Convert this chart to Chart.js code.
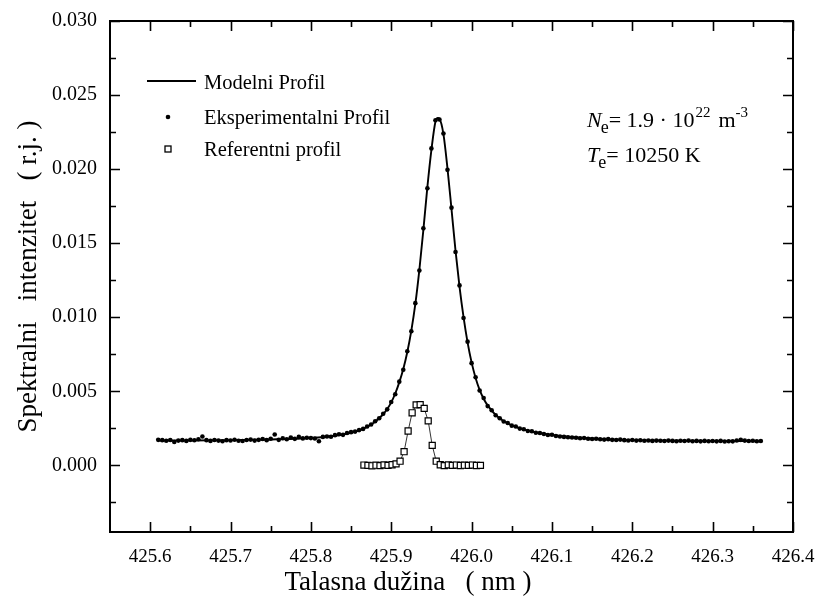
<!DOCTYPE html>
<html>
<head>
<meta charset="utf-8">
<script src="https://cdn.jsdelivr.net/npm/chart.js@4"></script>
<style>
  html, body { margin: 0; padding: 0; background: #fff; }
  #wrap { width: 815px; height: 602px; }
</style>
</head>
<body>
<div id="wrap"><canvas id="myChart" width="815" height="602"></canvas></div>
<script>
// podaci ocitani sa grafika
const wavelengths = [
  425.610, 425.615, 425.620, 425.625, 425.630, 425.635, 425.640, 425.645, 425.650, 425.655,
  425.660, 425.665, 425.670, 425.675, 425.680, 425.685, 425.690, 425.695, 425.700, 425.705,
  425.710, 425.715, 425.720, 425.725, 425.730, 425.735, 425.740, 425.745, 425.750, 425.755,
  425.760, 425.765, 425.770, 425.775, 425.780, 425.785, 425.790, 425.795, 425.800, 425.805,
  425.810, 425.815, 425.820, 425.825, 425.830, 425.835, 425.840, 425.845, 425.850, 425.855,
  425.860, 425.865, 425.870, 425.875, 425.880, 425.885, 425.890, 425.895, 425.900, 425.905,
  425.910, 425.915, 425.920, 425.925, 425.930, 425.935, 425.940, 425.945, 425.950, 425.955,
  425.960, 425.965, 425.970, 425.975, 425.980, 425.985, 425.990, 425.995, 426.000, 426.005,
  426.010, 426.015, 426.020, 426.025, 426.030, 426.035, 426.040, 426.045, 426.050, 426.055,
  426.060, 426.065, 426.070, 426.075, 426.080, 426.085, 426.090, 426.095, 426.100, 426.105,
  426.110, 426.115, 426.120, 426.125, 426.130, 426.135, 426.140, 426.145, 426.150, 426.155,
  426.160, 426.165, 426.170, 426.175, 426.180, 426.185, 426.190, 426.195, 426.200, 426.205,
  426.210, 426.215, 426.220, 426.225, 426.230, 426.235, 426.240, 426.245, 426.250, 426.255,
  426.260, 426.265, 426.270, 426.275, 426.280, 426.285, 426.290, 426.295, 426.300, 426.305,
  426.310, 426.315, 426.320, 426.325, 426.330, 426.335, 426.340, 426.345, 426.350, 426.355,
  426.360
];
const experimental = [
  0.00172, 0.00170, 0.00166, 0.00171, 0.00158, 0.00167, 0.00170, 0.00165, 0.00172, 0.00169,
  0.00176, 0.00195, 0.00170, 0.00165, 0.00171, 0.00167, 0.00163, 0.00170, 0.00168, 0.00173,
  0.00166, 0.00164, 0.00171, 0.00174, 0.00167, 0.00172, 0.00178, 0.00170, 0.00180, 0.00208,
  0.00172, 0.00183, 0.00176, 0.00188, 0.00179, 0.00192, 0.00182, 0.00186, 0.00184, 0.00181,
  0.00163, 0.00192, 0.00195, 0.00193, 0.00204, 0.00210, 0.00206, 0.00218, 0.00224, 0.00228,
  0.00238, 0.00246, 0.00262, 0.00276, 0.00298, 0.00318, 0.00348, 0.00378, 0.00428, 0.00480,
  0.00565, 0.00645, 0.00770, 0.00905, 0.01095, 0.01315, 0.01600, 0.01870, 0.02140, 0.02330,
  0.02335, 0.02240, 0.01995, 0.01740, 0.01440, 0.01215, 0.00995, 0.00835, 0.00690, 0.00595,
  0.00505, 0.00455, 0.00400, 0.00372, 0.00338, 0.00318, 0.00296, 0.00286, 0.00268, 0.00262,
  0.00248, 0.00244, 0.00232, 0.00230, 0.00220, 0.00218, 0.00212, 0.00205, 0.00207, 0.00198,
  0.00195, 0.00192, 0.00190, 0.00188, 0.00186, 0.00183, 0.00185, 0.00180, 0.00178, 0.00180,
  0.00176, 0.00174, 0.00177, 0.00172, 0.00171, 0.00174, 0.00170, 0.00168, 0.00171, 0.00167,
  0.00169, 0.00166, 0.00168, 0.00165, 0.00167, 0.00166, 0.00164, 0.00167, 0.00165, 0.00163,
  0.00166, 0.00164, 0.00167, 0.00163, 0.00165, 0.00162, 0.00165, 0.00163, 0.00164, 0.00162,
  0.00165, 0.00161, 0.00163, 0.00162, 0.00168, 0.00172, 0.00167, 0.00164, 0.00166, 0.00163,
  0.00164
];

// modelni profil
const modelX = [
  425.61, 425.65, 425.70, 425.75, 425.80, 425.83, 425.85, 425.86, 425.87, 425.88,
  425.89, 425.895, 425.90, 425.905, 425.91, 425.915, 425.92, 425.925, 425.93, 425.935,
  425.94, 425.945, 425.95, 425.955, 425.958, 425.96, 425.965, 425.97, 425.975, 425.98,
  425.985, 425.99, 425.995, 426.00, 426.005, 426.01, 426.015, 426.02, 426.03, 426.04,
  426.05, 426.06, 426.07, 426.08, 426.10, 426.12, 426.14, 426.16, 426.18, 426.20,
  426.25, 426.30, 426.36
];
const modelY = [
  0.00168, 0.00168, 0.00170, 0.00175, 0.00185, 0.00200, 0.00220, 0.00235, 0.00260, 0.00295,
  0.00345, 0.00380, 0.00425, 0.00485, 0.00560, 0.00650, 0.00765, 0.00910, 0.01090, 0.01320,
  0.01590, 0.01880, 0.02130, 0.02320, 0.02345, 0.02340, 0.02235, 0.02005, 0.01730, 0.01450,
  0.01205, 0.01000, 0.00830, 0.00695, 0.00590, 0.00510, 0.00450, 0.00405, 0.00340, 0.00298,
  0.00270, 0.00250, 0.00234, 0.00222, 0.00205, 0.00193, 0.00185, 0.00178, 0.00173, 0.00170,
  0.00166, 0.00164, 0.00163
];

// referentni profil
const refX = [
  425.866, 425.871, 425.876, 425.881, 425.886, 425.891, 425.896, 425.901, 425.906, 425.911,
  425.916, 425.921, 425.926, 425.931, 425.936, 425.941, 425.946, 425.951, 425.956, 425.961,
  425.966, 425.971, 425.976, 425.981, 425.986, 425.991, 425.996, 426.001, 426.006, 426.011
];
const refY = [
  0.00002, 0.00000, -0.00003, 0.00001, -0.00002, 0.00003, 0.00000, 0.00004, 0.00010, 0.00028,
  0.00092, 0.00232, 0.00355, 0.00408, 0.00410, 0.00385, 0.00300, 0.00135, 0.00028, 0.00004,
  -0.00002, 0.00003, 0.00000, 0.00002, -0.00001, 0.00001, 0.00000, 0.00002, -0.00001, 0.00000
];

const xTicks = [425.6, 425.7, 425.8, 425.9, 426.0, 426.1, 426.2, 426.3, 426.4];
const xMinorTicks = [425.65, 425.75, 425.85, 425.95, 426.05, 426.15, 426.25, 426.35];
const yTicks = [0, 0.005, 0.010, 0.015, 0.020, 0.025, 0.030];
const yMinorTicks = [-0.0025, 0.0025, 0.0075, 0.0125, 0.0175, 0.0225, 0.0275];

const serif = '"Liberation Serif", "DejaVu Serif", serif';

// okvir i unutrasnje crtice na sve cetiri strane
const frameTicks = {
  id: 'frameTicks',
  afterDatasetsDraw(chart) {
    const { ctx, chartArea: a, scales: { x, y } } = chart;
    ctx.save();
    ctx.strokeStyle = '#000';
    ctx.lineWidth = 1.6;
    ctx.beginPath();
    xTicks.concat(xMinorTicks).forEach(v => {
      const px = Math.round(x.getPixelForValue(v)) + 0.5;
      const len = xTicks.includes(v) ? 10 : 6;
      ctx.moveTo(px, a.bottom); ctx.lineTo(px, a.bottom - len);
      ctx.moveTo(px, a.top); ctx.lineTo(px, a.top + len);
    });
    yTicks.concat(yMinorTicks).forEach(v => {
      const py = Math.round(y.getPixelForValue(v)) + 0.5;
      const len = yTicks.includes(v) ? 10 : 6;
      ctx.moveTo(a.left, py); ctx.lineTo(a.left + len, py);
      ctx.moveTo(a.right, py); ctx.lineTo(a.right - len, py);
    });
    ctx.stroke();
    ctx.lineWidth = 2;
    ctx.strokeRect(a.left, a.top, a.right - a.left, a.bottom - a.top);
    ctx.restore();
  }
};

// legenda, natpisi i naslov x ose
const textLayer = {
  id: 'textLayer',
  afterDraw(chart) {
    const ctx = chart.ctx;
    const ds = chart.data.datasets;
    ctx.save();
    ctx.fillStyle = '#000';
    ctx.strokeStyle = '#000';
    ctx.textBaseline = 'alphabetic';

    // legenda
    ctx.lineWidth = ds[0].borderWidth;
    ctx.beginPath();
    ctx.moveTo(147, 81); ctx.lineTo(196, 81);
    ctx.stroke();
    ctx.beginPath();
    ctx.arc(168, 117, ds[1].pointRadius, 0, Math.PI * 2);
    ctx.fill();
    ctx.lineWidth = 1.3;
    ctx.fillStyle = '#fff';
    ctx.fillRect(165, 146, 6, 6);
    ctx.strokeRect(165, 146, 6, 6);
    ctx.fillStyle = '#000';
    ctx.font = '20.5px ' + serif;
    ctx.fillText(ds[0].label, 204, 89);
    ctx.fillText(ds[1].label, 204, 124);
    ctx.fillText(ds[2].label, 204, 156);

    // parametri plazme
    let cx = 587;
    const base1 = 127;
    ctx.font = 'italic 22px ' + serif;
    ctx.fillText('N', cx, base1);
    cx += ctx.measureText('N').width - 1;
    ctx.font = '18px ' + serif;
    ctx.fillText('e', cx, base1 + 6);
    cx += ctx.measureText('e').width;
    ctx.font = '22px ' + serif;
    ctx.fillText('= 1.9 \u00b7 10', cx, base1);
    cx += ctx.measureText('= 1.9 \u00b7 10').width + 1;
    ctx.font = '15px ' + serif;
    ctx.fillText('22', cx, base1 - 10);
    cx += ctx.measureText('22').width + 8;
    ctx.font = '22px ' + serif;
    ctx.fillText('m', cx, base1);
    cx += ctx.measureText('m').width;
    ctx.font = '15px ' + serif;
    ctx.fillText('-3', cx, base1 - 10);

    cx = 587;
    const base2 = 162;
    ctx.font = 'italic 22px ' + serif;
    ctx.fillText('T', cx, base2);
    cx += ctx.measureText('T').width - 1;
    ctx.font = '18px ' + serif;
    ctx.fillText('e', cx, base2 + 6);
    cx += ctx.measureText('e').width;
    ctx.font = '22px ' + serif;
    ctx.fillText('= 10250 K', cx, base2);

    // naslov x ose
    ctx.font = '27px ' + serif;
    ctx.textAlign = 'center';
    ctx.fillText('Talasna du\u017eina   ( nm )', 408, 590);
    ctx.restore();
  }
};

const ctx = document.getElementById('myChart').getContext('2d');
const myChart = new Chart(ctx, {
  type: 'scatter',
  data: {
    datasets: [
      {
        label: 'Modelni Profil',
        data: modelX.map((v, i) => ({ x: v, y: modelY[i] })),
        showLine: true,
        borderColor: '#000',
        borderWidth: 1.9,
        pointRadius: 0,
        cubicInterpolationMode: 'monotone',
        order: 3
      },
      {
        label: 'Eksperimentalni Profil',
        data: wavelengths.map((v, i) => ({ x: v, y: experimental[i] })),
        backgroundColor: '#000',
        borderColor: '#000',
        pointRadius: 2.3,
        borderWidth: 0,
        order: 2
      },
      {
        label: 'Referentni profil',
        data: refX.map((v, i) => ({ x: v, y: refY[i] })),
        showLine: true,
        borderColor: '#000',
        borderWidth: 0.8,
        backgroundColor: '#fff',
        pointStyle: 'rect',
        pointRadius: 4.3,
        pointBorderWidth: 1.2,
        order: 1
      }
    ]
  },
  options: {
    responsive: false,
    animation: false,
    layout: { padding: { left: 0, right: 22, top: 21, bottom: 0 } },
    plugins: { legend: { display: false }, tooltip: { enabled: false } },
    scales: {
      x: {
        type: 'linear',
        min: 425.55,
        max: 426.4,
        afterBuildTicks: s => { s.ticks = xTicks.map(v => ({ value: v })); },
        afterFit: s => { s.height = 70; s.paddingLeft = 0; s.paddingRight = 0; },
        grid: { display: false },
        border: { display: false },
        ticks: {
          color: '#000',
          padding: 6,
          maxRotation: 0,
          font: { family: serif, size: 19 },
          callback: v => v.toFixed(1)
        }
      },
      y: {
        min: -0.0045,
        max: 0.030,
        afterBuildTicks: s => { s.ticks = yTicks.map(v => ({ value: v })); },
        afterFit: s => { s.width = 110; s.paddingTop = 0; s.paddingBottom = 0; },
        grid: { display: false },
        border: { display: false },
        title: {
          display: true,
          text: 'Spektralni   intenzitet   ( r.j. )',
          color: '#000',
          font: { family: serif, size: 27 },
          padding: { top: 13, bottom: 0 }
        },
        ticks: {
          color: '#000',
          padding: 5,
          font: { family: serif, size: 20 },
          callback: v => v.toFixed(3)
        }
      }
    }
  },
  plugins: [frameTicks, textLayer]
});
</script>
</body>
</html>
